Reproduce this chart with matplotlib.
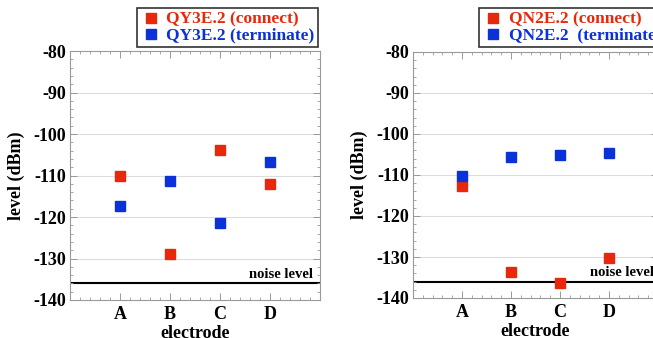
import matplotlib
matplotlib.use("Agg")
import matplotlib.pyplot as plt
from matplotlib.ticker import MultipleLocator, FixedLocator

electrodes = ["A", "B", "C", "D"]
qy3e_connect = [-110.0, -129.0, -103.8, -112.0]
qy3e_terminate = [-117.3, -111.3, -121.5, -106.7]
qn2e_connect = [-112.7, -133.7, -136.3, -130.3]
qn2e_terminate = [-110.3, -105.6, -105.1, -104.6]
noise_level = -136.0

RED = "#e8280c"
BLUE = "#0b32d8"
W, H = 653, 338

plt.rcParams["font.family"] = ["Liberation Serif", "DejaVu Serif"]
plt.rcParams["font.weight"] = "bold"
plt.rcParams["axes.unicode_minus"] = False

fig = plt.figure(figsize=(W / 100, H / 100), dpi=100)


def px_axes(left, top, right, bottom):
    return fig.add_axes([left / W, 1 - bottom / H, (right - left) / W, (bottom - top) / H])


def panel(ax, connect, terminate, labels, leg_anchor, leg_loc, noise_x):
    x = list(range(1, len(electrodes) + 1))
    for yv in range(-130, -80, 10):
        ax.axhline(yv, color="#dddddd", lw=0.8, zorder=0)
    ax.axhline(noise_level, color="black", lw=1.5, zorder=1)
    h1, = ax.plot(x, connect, "s", color=RED, ms=7.5, ls="none", label=labels[0], zorder=3)
    h2, = ax.plot(x, terminate, "s", color=BLUE, ms=7.5, ls="none", label=labels[1], zorder=3)
    ax.set_xlim(0, 5)
    ax.set_ylim(-140, -80)
    ax.xaxis.set_major_locator(FixedLocator(x))
    ax.xaxis.set_minor_locator(MultipleLocator(0.2))
    ax.yaxis.set_major_locator(MultipleLocator(10))
    ax.yaxis.set_minor_locator(MultipleLocator(2))
    ax.set_xticklabels(electrodes)
    ax.tick_params(which="both", direction="in", top=True, right=True,
                   color="#999999", labelsize=13)
    ax.tick_params(which="major", length=5, width=0.7)
    ax.tick_params(which="minor", length=2.5, width=0.6)
    ax.tick_params(axis="y", pad=3)
    ax.tick_params(axis="x", pad=4)
    for lbl in ax.get_xticklabels() + ax.get_yticklabels():
        lbl.set_fontweight("bold")
    for s in ax.spines.values():
        s.set_color("#999999")
        s.set_linewidth(0.8)
    ax.set_xlabel("electrode", fontsize=13, fontweight="bold", labelpad=2)
    ax.set_ylabel("level (dBm)", fontsize=13, fontweight="bold", labelpad=6)
    ax.text(noise_x, noise_level + 0.6, "noise level", ha="right", va="bottom",
            fontsize=10.5, fontweight="bold", zorder=4)
    leg = ax.legend(handles=[h1, h2], loc=leg_loc, bbox_to_anchor=leg_anchor,
                    bbox_transform=fig.transFigure, frameon=True, fancybox=False,
                    edgecolor="black", prop={"size": 12.5, "weight": "bold"},
                    handletextpad=0.3, borderpad=0.2, labelspacing=0.0,
                    handlelength=1.2, borderaxespad=0)
    leg.get_frame().set_linewidth(1.2)
    leg.get_texts()[0].set_color(RED)
    leg.get_texts()[1].set_color(BLUE)


ax1 = px_axes(70, 51, 320, 300)
panel(ax1, qy3e_connect, qy3e_terminate,
      ["QY3E.2 (connect)", "QY3E.2 (terminate)"],
      (318 / W, 1 - 8 / H), "upper right", 4.86)

ax2 = px_axes(413, 52, 658, 298)
panel(ax2, qn2e_connect, qn2e_terminate,
      ["QN2E.2 (connect)", "QN2E.2  (terminate)"],
      (479 / W, 1 - 8 / H), "upper left", 4.92)

fig.savefig("out.png", dpi=100)
